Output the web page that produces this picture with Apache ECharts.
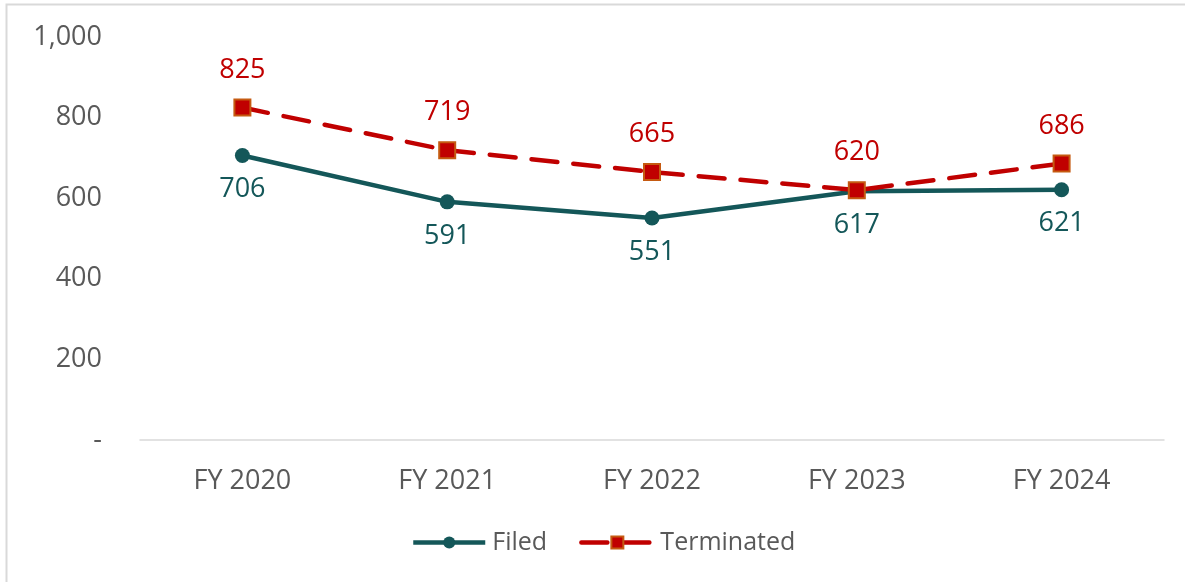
<!DOCTYPE html>
<html><head><meta charset="utf-8">
<script src="https://cdn.jsdelivr.net/npm/echarts@6/dist/echarts.min.js"></script>
<style>html,body{margin:0;padding:0;background:#fff}#c{width:1185px;height:582px}</style>
</head><body><div id="c"></div>
<script>
const categories = ['FY 2020','FY 2021','FY 2022','FY 2023','FY 2024'];
const filed = [706, 591, 551, 617, 621];
const terminated = [825, 719, 665, 620, 686];
const yTicks = {min: 0, max: 1000, interval: 200};

const FONT = '"Open Sans", sans-serif';
const chart = echarts.init(document.getElementById('c'), null, {renderer: 'canvas'});
chart.setOption({
  backgroundColor: '#fff',
  animation: false,
  graphic: [{
    type: 'polyline', silent: true,
    shape: {points: [[6.5, 600], [6.5, 4.5], [1200, 4.5]]},
    style: {stroke: '#D9D9D9', lineWidth: 2, fill: null}
  }],
  grid: {left: 140, right: 21, top: 37, bottom: 142},
  legend: {
    bottom: 22, left: 406,
    itemWidth: 72, itemHeight: 15, itemGap: 32,
    textStyle: {fontFamily: FONT, fontSize: 25, color: '#595959', padding: [0, 0, 0, 2]},
    data: [
      {name: 'Filed', lineStyle: {width: 4.5}},
      {name: 'Terminated', lineStyle: {width: 4.5}}
    ]
  },
  xAxis: {
    type: 'category', data: categories, boundaryGap: true,
    axisLine: {lineStyle: {color: '#D9D9D9', width: 1.5}},
    axisTick: {show: false},
    axisLabel: {fontFamily: FONT, fontSize: 27, color: '#595959', margin: 28}
  },
  yAxis: {
    type: 'value', min: yTicks.min, max: yTicks.max, interval: yTicks.interval,
    splitLine: {show: false}, axisLine: {show: false}, axisTick: {show: false},
    axisLabel: {
      fontFamily: FONT, fontSize: 27, color: '#595959', margin: 38,
      formatter: v => v === 0 ? '-' : v.toLocaleString('en-US')
    }
  },
  series: [{
    name: 'Filed', type: 'line', data: filed,
    symbol: 'circle', symbolSize: 15,
    lineStyle: {color: '#145759', width: 4.5},
    itemStyle: {color: '#145759'},
    label: {show: true, position: 'bottom', distance: 13,
      fontFamily: FONT, fontSize: 27, color: '#145759'},
    z: 2
  }, {
    name: 'Terminated', type: 'line', data: terminated,
    symbol: 'rect', symbolSize: 16,
    lineStyle: {color: '#C00000', width: 4.5, type: [26, 16], cap: 'round'},
    itemStyle: {color: '#C00000', borderColor: '#C55A11', borderWidth: 2},
    label: {show: true, position: 'top', distance: 15,
      fontFamily: FONT, fontSize: 27, color: '#C00000'},
    z: 3
  }]
});
</script></body></html>
